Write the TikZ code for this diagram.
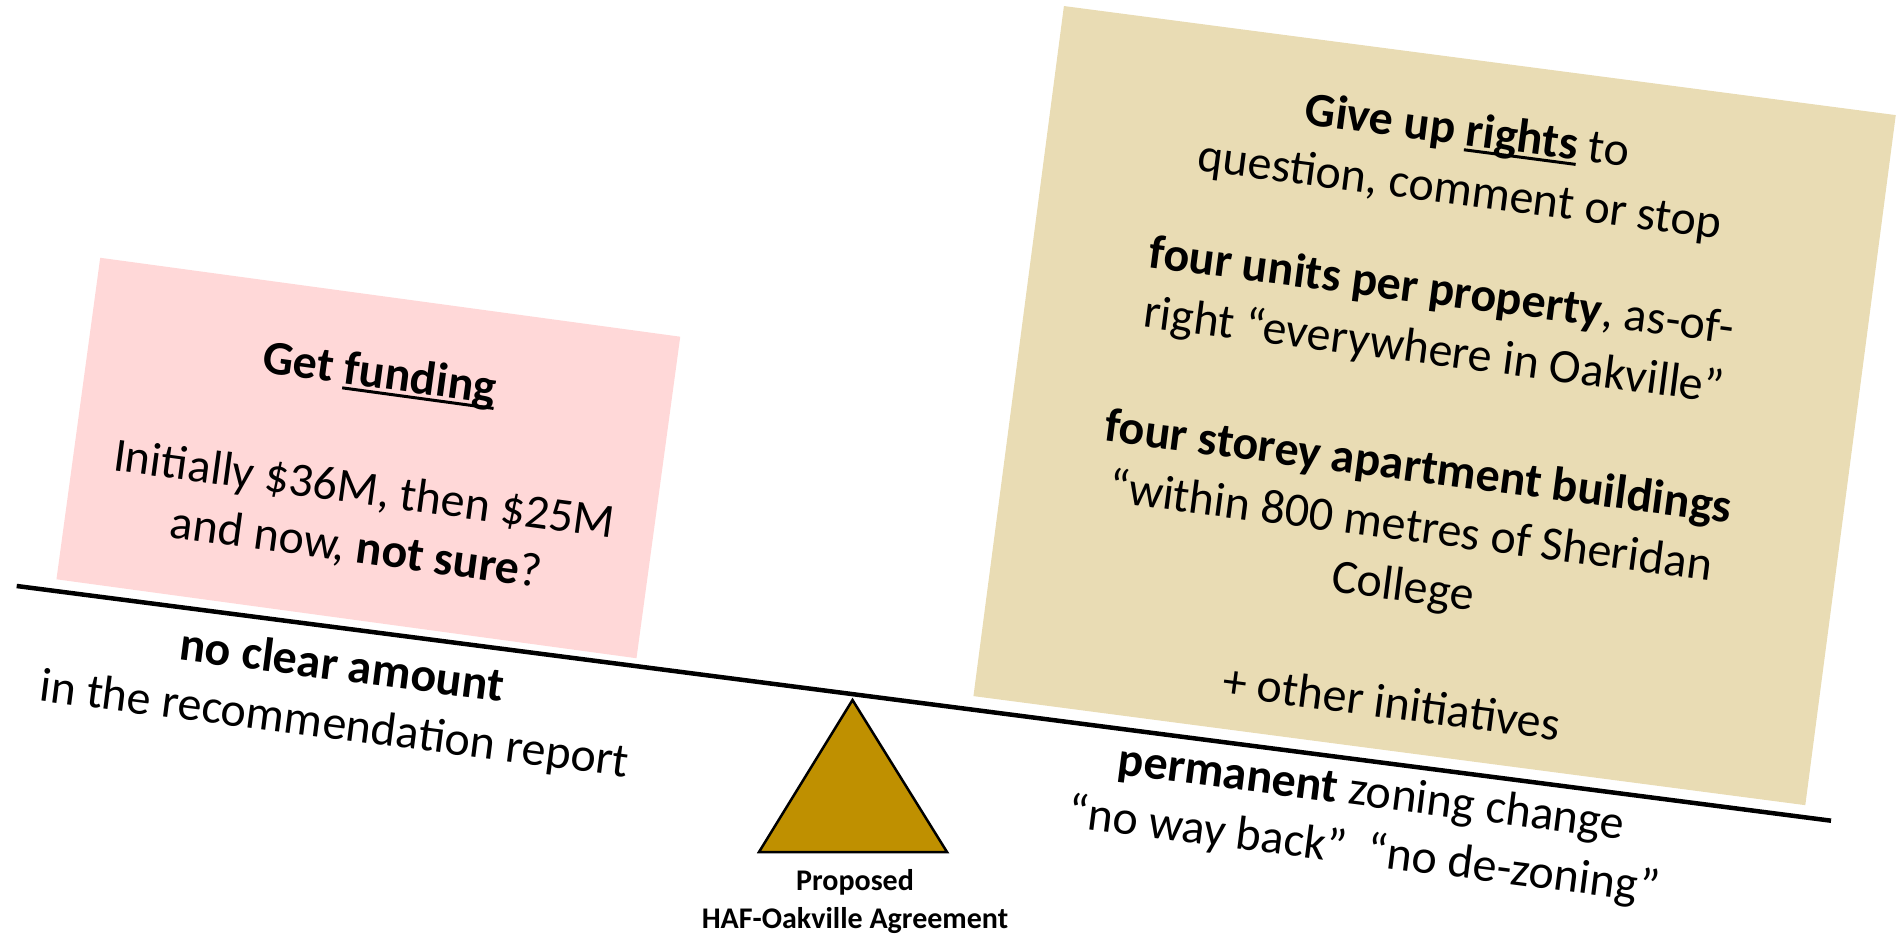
\documentclass[tikz,border=0pt]{standalone}
\usepackage{fontspec}
\setmainfont{Carlito}
\newcommand\ulx[1]{\setbox0\hbox{#1}\rlap{\raisebox{-6pt}{\rule{\wd0}{3pt}}}\box0}
\definecolor{pinkbox}{RGB}{255,216,216}
\definecolor{tanbox}{RGB}{233,220,180}
\definecolor{goldtri}{RGB}{191,144,0}
\begin{document}
\begin{tikzpicture}[x=1pt,y=-1pt,
  txt/.style={font=\fontsize{48}{58.6}\selectfont, align=center, inner sep=0pt},
  ln/.style={font=\fontsize{48}{58.6}\selectfont, inner sep=0pt, anchor=base},
  small/.style={font=\bfseries\fontsize{30}{38}\selectfont, align=center, inner sep=0pt},
  panel/.style={inner sep=0pt, draw=none}]
\useasboundingbox (0,0) rectangle (1896,936);
% panels
\node[panel, fill=pinkbox, rotate=-7.75, minimum width=585.4pt, minimum height=324.5pt] (fund) at (368.35,458) {};
\node[panel, fill=tanbox, rotate=-7.47, minimum width=839pt, minimum height=696pt] (rights) at (1434.6,405.6) {};
% beam
\coordinate (bl) at (16.7,586);
\coordinate (br) at (1831,820.7);
\draw[line width=4.5pt] (bl) -- (br);
% fulcrum
\coordinate (apex) at (852.5,700);
\coordinate (baseR) at (947,852);
\coordinate (baseL) at (759,852);
\draw[fill=goldtri, line width=2.5pt, line join=miter] (apex) -- (baseR) -- (baseL) -- cycle;
\node[small] (fulcrumlbl) at (855,902) {Proposed\\HAF-Oakville Agreement};
% funding text
\node[txt, rotate=-7.75] (fundtxt) at (367.9,461.6) {\textbf{Get \ulx{funding}}\\[58.6pt]
Initially \$36M, then \$25M\\
and now, \textbf{not sure}?};
% rights text, line by line in the panel's frame
\begin{scope}[shift={(1434.6,405.6)}, rotate=-7.47, transform shape]
\node[ln] (r1) at (-3,-262) {\textbf{Give up \ulx{rights}} to};
\node[ln] (r2) at (-3,-202) {question, comment or stop};
\node[ln] (r3) at (-8,-100) {\textbf{four units per property}, as-of-};
\node[ln] (r4) at (-8,-40) {right “everywhere in Oakville”};
\node[ln] (r5) at (-8,78) {\textbf{four storey apartment buildings}};
\node[ln] (r6) at (-8,138) {“within 800 metres of Sheridan};
\node[ln] (r7) at (-8,198) {College};
\node[ln] (r8) at (-4,316) {+ other initiatives};
\end{scope}
\node[txt, rotate=-7.4] (leftlbl) at (338,697) {\textbf{no clear amount}\\in the recommendation report};
\node[txt, rotate=-7.4] (rightlbl) at (1367.5,823.5) {\textbf{permanent} zoning change\\“no way back”\ \ “no de-zoning”};
\end{tikzpicture}
\end{document}
